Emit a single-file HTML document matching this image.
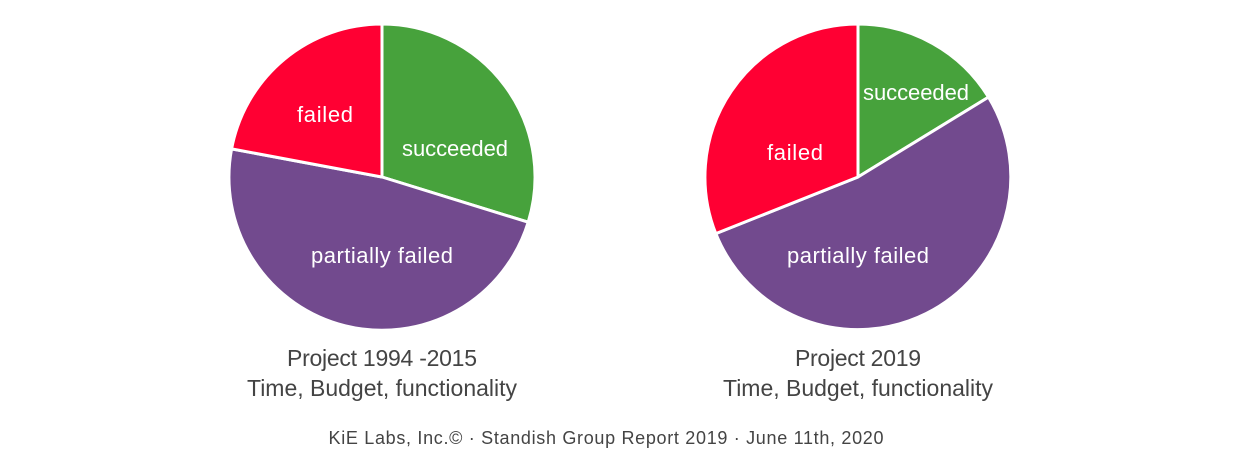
<!DOCTYPE html>
<html><head><meta charset="utf-8"><style>
html,body{margin:0;padding:0;background:#fff;}
svg{display:block;}
text{font-family:"Liberation Sans",sans-serif;}
</style></head><body>
<svg width="1240" height="462" viewBox="0 0 1240 462">
<g stroke="#fff" stroke-width="3" stroke-linejoin="round">
<path d="M382,177 L382,24 A153,153 0 0 1 528.2,222.2 Z" fill="#47a23c"/>
<path d="M382,177 L528.2,222.2 A153,153 0 0 1 231.6,148.9 Z" fill="#724a8e"/>
<path d="M382,177 L231.6,148.9 A153,153 0 0 1 382,24 Z" fill="#ff0033"/>
<path d="M858,177 L858,24 A153,153 0 0 1 988.5,97.1 Z" fill="#47a23c"/>
<path d="M858,177 L988.5,97.1 A153,153 0 1 1 715.8,233.6 Z" fill="#724a8e"/>
<path d="M858,177 L715.8,233.6 A153,153 0 0 1 858,24 Z" fill="#ff0033"/>
</g>
<g fill="#fff" font-size="22" text-anchor="middle">
<text x="325" y="122" textLength="56">failed</text>
<text x="455" y="156" textLength="106">succeeded</text>
<text x="382" y="263" textLength="142">partially failed</text>
<text x="916" y="100" textLength="106">succeeded</text>
<text x="795" y="160" textLength="56">failed</text>
<text x="858" y="263" textLength="142">partially failed</text>
</g>
<g fill="#444" font-size="23" text-anchor="middle">
<text x="382" y="366" textLength="190">Project 1994 -2015</text>
<text x="382" y="396" textLength="270">Time, Budget, functionality</text>
<text x="858" y="366" textLength="126">Project 2019</text>
<text x="858" y="396" textLength="270">Time, Budget, functionality</text>
</g>
<text x="606" y="444" font-size="18" fill="#444" text-anchor="middle" textLength="555">KiE Labs, Inc.© · Standish Group Report 2019 · June 11th, 2020</text>
</svg>
</body></html>
